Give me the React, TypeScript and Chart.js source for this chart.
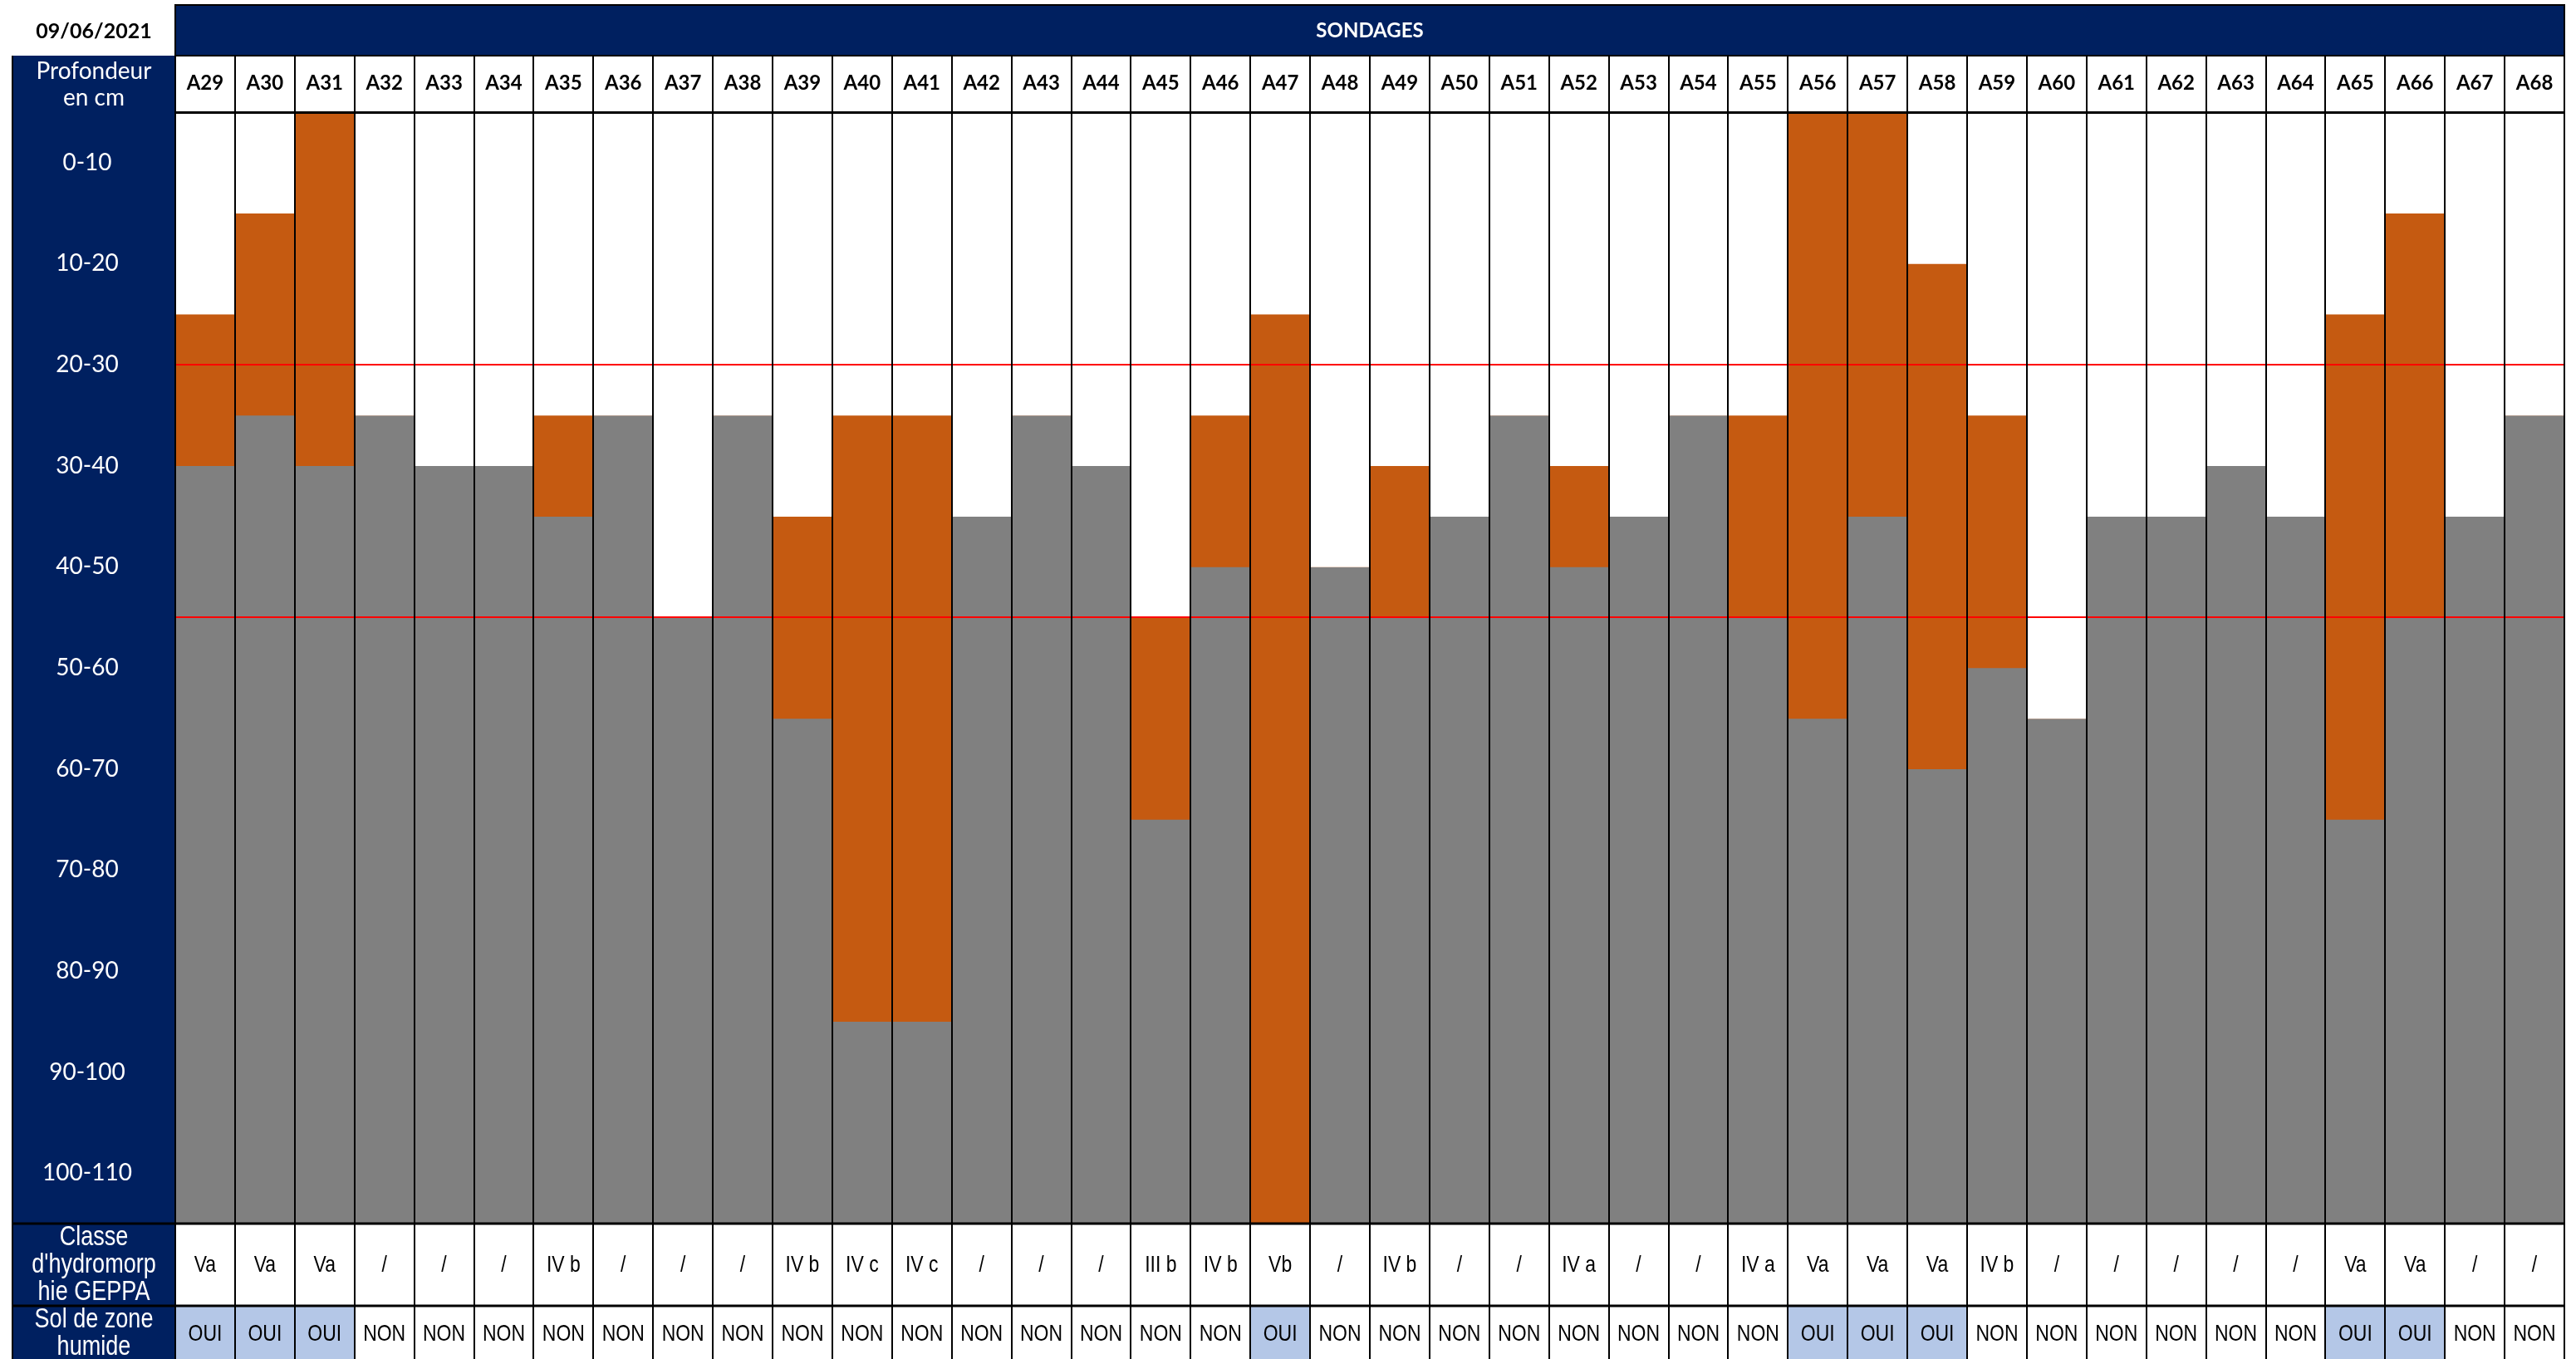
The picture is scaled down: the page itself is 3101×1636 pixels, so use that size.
import React, { useEffect, useRef } from "react";
import { Chart, registerables } from "chart.js";

Chart.register(...registerables);

// ---------- DATA ----------
const dateReleve = "09/06/2021";
const titre = "SONDAGES";
const enteteProfondeur = ["Profondeur", "en cm"];
const enteteClasse = ["Classe", "d'hydromorp", "hie GEPPA"];
const enteteZoneHumide = ["Sol de zone", "humide"];

const sondages = [
  "A29", "A30", "A31", "A32", "A33", "A34", "A35", "A36", "A37", "A38",
  "A39", "A40", "A41", "A42", "A43", "A44", "A45", "A46", "A47", "A48",
  "A49", "A50", "A51", "A52", "A53", "A54", "A55", "A56", "A57", "A58",
  "A59", "A60", "A61", "A62", "A63", "A64", "A65", "A66", "A67", "A68",
];

// depth (cm) where hydromorphic traces begin (end of the white part)
const tracesDebut = [
  20, 10, 0, 30, 35, 35, 30, 30, 50, 30,
  40, 30, 30, 40, 30, 35, 50, 30, 20, 45,
  35, 40, 30, 35, 40, 30, 30, 0, 0, 15,
  30, 60, 40, 40, 35, 40, 20, 10, 40, 30,
];

// depth (cm) where traces end / refusal begins (start of the grey part)
const tracesFin = [
  35, 30, 35, 30, 35, 35, 40, 30, 50, 30,
  60, 90, 90, 40, 30, 35, 70, 45, 110, 45,
  50, 40, 30, 45, 40, 30, 50, 60, 40, 65,
  55, 60, 40, 40, 35, 40, 70, 50, 40, 30,
];

const profondeurFin = 110;

const profondeurs = [
  "0-10", "10-20", "20-30", "30-40", "40-50", "50-60",
  "60-70", "70-80", "80-90", "90-100", "100-110",
];

const seuils = [25, 50];

const classesGeppa = [
  "Va", "Va", "Va", "/", "/", "/", "IV b", "/", "/", "/",
  "IV b", "IV c", "IV c", "/", "/", "/", "III b", "IV b", "Vb", "/",
  "IV b", "/", "/", "IV a", "/", "/", "IV a", "Va", "Va", "Va",
  "IV b", "/", "/", "/", "/", "/", "Va", "Va", "/", "/",
];

const zoneHumide = [
  "OUI", "OUI", "OUI", "NON", "NON", "NON", "NON", "NON", "NON", "NON",
  "NON", "NON", "NON", "NON", "NON", "NON", "NON", "NON", "OUI", "NON",
  "NON", "NON", "NON", "NON", "NON", "NON", "NON", "OUI", "OUI", "OUI",
  "NON", "NON", "NON", "NON", "NON", "NON", "OUI", "OUI", "NON", "NON",
];

// ---------- STYLE ----------
const NAVY = "#002060";
const ORANGE = "#c55a11";
const GREY = "#808080";
const RED = "#ff0000";
const LIGHTBLUE = "#b4c7e7";
const FONT_BOLD = "Lato, 'Open Sans', sans-serif";
const FONT_DEPTH = "Lato, 'Noto Sans', sans-serif";
const FONT_ARIAL = "'Liberation Sans', Arial, sans-serif";
const NARROW = 0.82;

const HEADER_H = 68;
const BANNER_TOP = 6;
const COL_LEFT = 15;
const ROW1_H = 99;

function narrowText(ctx: CanvasRenderingContext2D, t: string, x: number, y: number) {
  ctx.save();
  ctx.translate(x, y);
  ctx.scale(NARROW, 1);
  ctx.fillText(t, 0, 0);
  ctx.restore();
}

const tablePlugin = {
  id: "tableau",
  beforeDraw(chart: any) {
    const { ctx, chartArea } = chart;
    const { left, right, top } = chartArea;
    const W = chart.width;
    const H = chart.height;
    ctx.save();
    ctx.fillStyle = "#ffffff";
    ctx.fillRect(0, 0, W, H);
    const headTop = top - HEADER_H;
    ctx.fillStyle = NAVY;
    ctx.fillRect(COL_LEFT, headTop, left - COL_LEFT, H - headTop);
    ctx.fillRect(left, BANNER_TOP, right - left, headTop - BANNER_TOP);
    ctx.strokeStyle = "#000";
    ctx.lineWidth = 2;
    ctx.strokeRect(left, BANNER_TOP, right - left, headTop - BANNER_TOP);
    ctx.beginPath();
    ctx.moveTo(COL_LEFT, headTop);
    ctx.lineTo(COL_LEFT, H);
    ctx.stroke();
    ctx.textAlign = "center";
    ctx.textBaseline = "middle";
    ctx.fillStyle = "#000";
    ctx.font = `bold 25px ${FONT_BOLD}`;
    ctx.fillText(dateReleve, (COL_LEFT + left) / 2, (BANNER_TOP + headTop) / 2 + 1);
    ctx.fillStyle = "#fff";
    ctx.font = `bold 24px ${FONT_BOLD}`;
    ctx.fillText(titre, (left + right) / 2, (BANNER_TOP + headTop) / 2 + 1);
    ctx.font = `28px ${FONT_DEPTH}`;
    const cx = (COL_LEFT + left) / 2;
    enteteProfondeur.forEach((t, i) => {
      ctx.fillText(t, cx, headTop + 19 + i * 32);
    });
    ctx.restore();
  },
  afterDatasetsDraw(chart: any) {
    const { ctx, chartArea, scales } = chart;
    ctx.save();
    ctx.strokeStyle = RED;
    ctx.lineWidth = 2;
    seuils.forEach((s) => {
      const y = Math.round(scales.y.getPixelForValue(s));
      ctx.beginPath();
      ctx.moveTo(chartArea.left, y);
      ctx.lineTo(chartArea.right, y);
      ctx.stroke();
    });
    ctx.restore();
  },
  afterDraw(chart: any) {
    const { ctx, chartArea, scales } = chart;
    const { left, right, bottom } = chartArea;
    const H = chart.height;
    const xs = scales.x;
    const half = (xs.getPixelForValue(1) - xs.getPixelForValue(0)) / 2;
    const row1Bottom = bottom + ROW1_H;
    ctx.save();
    ctx.fillStyle = "#fff";
    ctx.fillRect(left, bottom, right - left, H - bottom);
    sondages.forEach((_, i) => {
      const cx = xs.getPixelForValue(i);
      if (zoneHumide[i] === "OUI") {
        ctx.fillStyle = LIGHTBLUE;
        ctx.fillRect(cx - half, row1Bottom, half * 2, H - row1Bottom);
      }
    });
    ctx.strokeStyle = "#000";
    ctx.lineWidth = 2;
    for (let i = 0; i <= sondages.length; i++) {
      const x = Math.round(xs.getPixelForValue(0) - half + i * half * 2);
      ctx.beginPath();
      ctx.moveTo(x, bottom);
      ctx.lineTo(x, H);
      ctx.stroke();
    }
    ctx.lineWidth = 3;
    [bottom, row1Bottom].forEach((y) => {
      ctx.beginPath();
      ctx.moveTo(COL_LEFT, y);
      ctx.lineTo(right, y);
      ctx.stroke();
    });
    ctx.textAlign = "center";
    ctx.textBaseline = "middle";
    ctx.fillStyle = "#000";
    ctx.font = `28px ${FONT_ARIAL}`;
    sondages.forEach((_, i) => {
      const cx = xs.getPixelForValue(i);
      narrowText(ctx, classesGeppa[i], cx, (bottom + row1Bottom) / 2 + 1);
      narrowText(ctx, zoneHumide[i], cx, (row1Bottom + H) / 2 + 2);
    });
    ctx.fillStyle = "#fff";
    ctx.font = `33px ${FONT_ARIAL}`;
    const lx = (COL_LEFT + left) / 2;
    enteteClasse.forEach((t, i) => {
      narrowText(ctx, t, lx, bottom + 17 + i * 33);
    });
    enteteZoneHumide.forEach((t, i) => {
      narrowText(ctx, t, lx, row1Bottom + 17 + i * 33);
    });
    ctx.restore();
  },
};

export default function App() {
  const ref = useRef<HTMLCanvasElement>(null);

  useEffect(() => {
    const canvas = ref.current;
    if (!canvas) return;
    const chart = new Chart(canvas, {
      type: "bar",
      data: {
        labels: sondages,
        datasets: [
          {
            label: "Sans traces",
            data: sondages.map((_, i) => [0, tracesDebut[i]]) as any,
            backgroundColor: "#ffffff",
          },
          {
            label: "Traces d'hydromorphie",
            data: sondages.map((_, i) => [tracesDebut[i], tracesFin[i]]) as any,
            backgroundColor: ORANGE,
          },
          {
            label: "Refus",
            data: sondages.map((_, i) => [tracesFin[i], profondeurFin]) as any,
            backgroundColor: GREY,
          },
        ],
      },
      options: {
        responsive: false,
        maintainAspectRatio: false,
        animation: false,
        events: [],
        layout: { padding: { left: COL_LEFT, right: 14, top: 67, bottom: 163 } },
        plugins: {
          legend: { display: false },
          tooltip: { enabled: false },
          title: { display: false },
        },
        datasets: {
          bar: { grouped: false, barPercentage: 1, categoryPercentage: 1, borderWidth: 0 },
        },
        scales: {
          x: {
            position: "top",
            offset: true,
            grid: {
              offset: true,
              color: "#000",
              lineWidth: 2,
              z: 1,
              drawTicks: true,
              tickLength: HEADER_H,
            },
            border: { display: true, color: "#000", width: 3, z: 2 },
            ticks: {
              color: "#000",
              font: { family: FONT_BOLD, size: 24, weight: "bold" },
              padding: -48,
              maxRotation: 0,
              autoSkip: false,
            },
            afterFit: (s: any) => {
              s.height = HEADER_H;
            },
          } as any,
          y: {
            reverse: true,
            min: 0,
            max: profondeurFin,
            grid: { display: false },
            border: { display: false },
            afterBuildTicks: (s: any) => {
              s.ticks = profondeurs.map((_, i) => ({ value: i * 10 + 5 }));
            },
            ticks: {
              color: "#fff",
              font: { family: FONT_DEPTH, size: 28 },
              crossAlign: "center",
              padding: 40,
              autoSkip: false,
              callback: (_v: any, i: number) => profondeurs[i],
            },
            afterFit: (s: any) => {
              const w = s._labelSizes ? s._labelSizes.widest.width : 90;
              s.width = 196;
              s.options.ticks.padding = 98 - w / 2;
            },
          } as any,
        },
      },
      plugins: [tablePlugin],
    });
    return () => chart.destroy();
  }, []);

  return (
    <div style={{ position: "fixed", left: 0, top: 0, width: 3101, height: 1636, background: "#fff" }}>
      <canvas ref={ref} width={3101} height={1636} style={{ display: "block", width: 3101, height: 1636 }} />
    </div>
  );
}
